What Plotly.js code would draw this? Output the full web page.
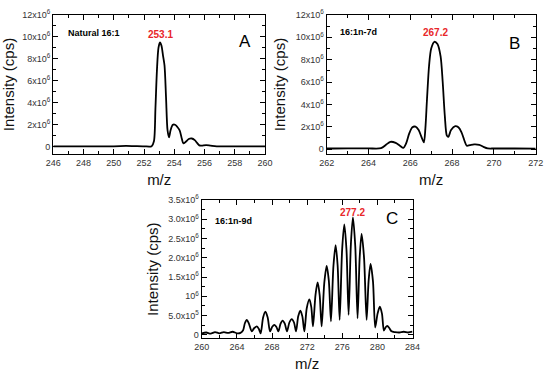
<!DOCTYPE html>
<html>
<head>
<meta charset="utf-8">
<script src="https://cdn.plot.ly/plotly-3.0.1.min.js"></script>
<style>html,body{margin:0;padding:0;background:#fff;}#chart{width:550px;height:374px;}</style>
</head>
<body>
<div id="chart"></div>
<script>
// Intensities in units of 10^6 cps
const mzA = [246, 248, 250, 250.8, 251.3, 252.0, 252.5, 252.65, 252.75, 252.85, 252.95, 253.05, 253.15, 253.25, 253.35, 253.45, 253.55, 253.65, 253.75, 253.9, 254.05, 254.2, 254.35, 254.5, 254.6, 254.75, 254.95, 255.15, 255.35, 255.5, 255.65, 255.8, 256.1, 256.4, 256.8, 258, 260];
const intA = [0.03, 0.03, 0.04, 0.07, 0.06, 0.04, 0.05, 0.5, 3.5, 7.0, 9.0, 9.5, 9.2, 8.3, 7.4, 4.5, 1.5, 0.85, 1.5, 2.0, 2.0, 1.8, 1.5, 0.7, 0.3, 0.45, 0.7, 0.75, 0.6, 0.35, 0.12, 0.1, 0.15, 0.1, 0.04, 0.03, 0.03];

const mzB = [262, 263, 264, 264.6, 264.85, 265.05, 265.3, 265.5, 265.67, 265.8, 265.95, 266.1, 266.25, 266.4, 266.55, 266.65, 266.72, 266.8, 266.9, 267.0, 267.15, 267.3, 267.45, 267.55, 267.65, 267.75, 267.82, 267.95, 268.15, 268.3, 268.45, 268.6, 268.7, 268.85, 269.05, 269.3, 269.5, 269.7, 270, 271, 272];
const intB = [0.05, 0.07, 0.06, 0.08, 0.4, 0.65, 0.55, 0.3, 0.1, 0.5, 1.4, 1.95, 2.0, 1.7, 1.0, 0.6, 1.8, 4.5, 7.5, 9.0, 9.6, 9.4, 8.3, 6.0, 3.0, 1.2, 1.1, 1.7, 2.05, 1.95, 1.5, 0.7, 0.3, 0.35, 0.42, 0.38, 0.2, 0.06, 0.05, 0.05, 0.03];

const mzC = [260, 260.5, 261, 261.5, 262, 262.5, 263, 263.5, 264, 264.4, 264.7, 264.9, 265.12, 265.35, 265.69, 265.95, 266.26, 266.5, 266.7, 266.98, 267.24, 267.5, 267.77, 268.02, 268.27, 268.5, 268.72, 268.97, 269.2, 269.45, 269.7, 269.97, 270.24, 270.5, 270.73, 270.98, 271.22, 271.45, 271.68, 271.95, 272.25, 272.47, 272.66, 272.95, 273.19, 273.42, 273.65, 273.95, 274.22, 274.47, 274.71, 274.99, 275.24, 275.47, 275.7, 275.98, 276.23, 276.48, 276.72, 276.98, 277.21, 277.48, 277.74, 277.98, 278.2, 278.48, 278.77, 279.0, 279.22, 279.5, 279.75, 280.02, 280.28, 280.52, 280.74, 280.93, 281.12, 281.37, 281.61, 282, 282.5, 283, 283.5, 284];
const intC = [0.04, 0.06, 0.03, 0.07, 0.04, 0.07, 0.05, 0.08, 0.04, 0.05, 0.12, 0.30, 0.39, 0.30, 0.09, 0.17, 0.22, 0.15, 0.04, 0.45, 0.6, 0.45, 0.09, 0.21, 0.26, 0.2, 0.09, 0.29, 0.37, 0.29, 0.09, 0.32, 0.41, 0.32, 0.09, 0.48, 0.63, 0.48, 0.09, 0.69, 0.92, 0.72, 0.22, 1.04, 1.36, 1.04, 0.22, 1.35, 1.79, 1.4, 0.35, 1.78, 2.33, 1.8, 0.39, 2.2, 2.87, 2.2, 0.52, 2.35, 3.05, 2.3, 0.43, 2.0, 2.62, 2.0, 0.39, 1.4, 1.84, 1.38, 0.19, 0.55, 0.73, 0.55, 0.11, 0.19, 0.23, 0.17, 0.09, 0.07, 0.06, 0.08, 0.06, 0.08];

const yTickValsAB = [0, 2, 4, 6, 8, 10, 12];
const yTickTextAB = ['0', '2x10<sup>6</sup>', '4x10<sup>6</sup>', '6x10<sup>6</sup>', '8x10<sup>6</sup>', '10x10<sup>6</sup>', '12x10<sup>6</sup>'];
const yTickValsC = [0, 0.5, 1.0, 1.5, 2.0, 2.5, 3.0, 3.5];
const yTickTextC = ['0', '5.0x10<sup>5</sup>', '10<sup>6</sup>', '1.5x10<sup>6</sup>', '2.0x10<sup>6</sup>', '2.5x10<sup>6</sup>', '3.0x10<sup>6</sup>', '3.5x10<sup>6</sup>'];

const sampleNames = ['Natural 16:1', '16:1n-7d', '16:1n-9d'];
const peakMz = [253.1, 267.2, 277.2];
const peakLabelY = [10.2, 10.4, 3.19];
const panelLetters = ['A', 'B', 'C'];

const line = {color: '#000', width: 1.8, shape: 'spline', smoothing: 0.8};
const traces = [
  {x: mzA, y: intA, xaxis: 'x', yaxis: 'y', mode: 'lines', line: line, hoverinfo: 'skip'},
  {x: mzB, y: intB, xaxis: 'x2', yaxis: 'y2', mode: 'lines', line: line, hoverinfo: 'skip'},
  {x: mzC, y: intC, xaxis: 'x3', yaxis: 'y3', mode: 'lines', line: line, hoverinfo: 'skip'}
];

const tickFont = {family: 'Arial, Liberation Sans, sans-serif', size: 9, color: '#333'};
const titleFont = {family: 'Arial, Liberation Sans, sans-serif', size: 15, color: '#111'};

function xax(domain, range, dtick, minorDtick, anchor) {
  return {domain: domain, range: range, anchor: anchor, dtick: dtick, tick0: range[0],
    showgrid: false, zeroline: false, showline: true, linecolor: '#000', linewidth: 1.2, mirror: 'ticks',
    ticks: 'inside', ticklen: 5, tickwidth: 1, tickcolor: '#000', tickfont: tickFont,
    minor: {ticks: 'inside', ticklen: 3, dtick: minorDtick, tickcolor: '#000', showgrid: false},
    title: {text: 'm/z', font: titleFont, standoff: 7}};
}
function yax(domain, range, vals, text, minorDtick, anchor) {
  return {domain: domain, range: range, anchor: anchor, tickmode: 'array', tickvals: vals, ticktext: text,
    showgrid: false, zeroline: false, showline: true, linecolor: '#000', linewidth: 1.2, mirror: 'ticks',
    ticks: 'inside', ticklen: 5, tickwidth: 1, tickcolor: '#000', tickfont: tickFont,
    minor: {ticks: 'inside', ticklen: 3, dtick: minorDtick, tick0: 0, tickcolor: '#000', showgrid: false},
    title: {text: 'Intensity (cps)', font: titleFont, standoff: 6}};
}

const annFont = {family: 'Arial, Liberation Sans, sans-serif', size: 9, color: '#000'};
const redFont = {family: 'Arial, Liberation Sans, sans-serif', size: 10, color: '#e8262a'};
const letterFont = {family: 'Arial, Liberation Sans, sans-serif', size: 17, color: '#000'};

const annotations = [
  {xref: 'paper', yref: 'paper', x: 0.12, y: 0.912, xanchor: 'left', yanchor: 'middle', text: '<b>' + sampleNames[0] + '</b>', showarrow: false, font: annFont},
  {xref: 'paper', yref: 'paper', x: 0.615, y: 0.914, xanchor: 'left', yanchor: 'middle', text: '<b>' + sampleNames[1] + '</b>', showarrow: false, font: annFont},
  {xref: 'paper', yref: 'paper', x: 0.387, y: 0.409, xanchor: 'left', yanchor: 'middle', text: '<b>' + sampleNames[2] + '</b>', showarrow: false, font: annFont},
  {xref: 'x', yref: 'y', x: peakMz[0], y: peakLabelY[0], text: '<b>' + peakMz[0].toFixed(1) + '</b>', showarrow: false, font: redFont},
  {xref: 'x2', yref: 'y2', x: peakMz[1], y: peakLabelY[1], text: '<b>' + peakMz[1].toFixed(1) + '</b>', showarrow: false, font: redFont},
  {xref: 'x3', yref: 'y3', x: peakMz[2], y: peakLabelY[2], text: '<b>' + peakMz[2].toFixed(1) + '</b>', showarrow: false, font: redFont},
  {xref: 'paper', yref: 'paper', x: 0.445, y: 0.92, text: panelLetters[0], showarrow: false, font: letterFont},
  {xref: 'paper', yref: 'paper', x: 0.949, y: 0.914, text: panelLetters[1], showarrow: false, font: letterFont},
  {xref: 'paper', yref: 'paper', x: 0.727, y: 0.417, text: panelLetters[2], showarrow: false, font: letterFont}
];

const layout = {
  width: 550, height: 374,
  margin: {l: 0, r: 0, t: 0, b: 0},
  paper_bgcolor: '#fff', plot_bgcolor: '#fff',
  showlegend: false,
  xaxis: xax([0.097, 0.482], [246, 260], 2, 1, 'y'),
  yaxis: yax([0.588, 0.960], [-0.67, 12], yTickValsAB, yTickTextAB, 1, 'x'),
  xaxis2: xax([0.594, 0.974], [262, 272], 2, 1, 'y2'),
  yaxis2: yax([0.588, 0.960], [-0.45, 12], yTickValsAB, yTickTextAB, 1, 'x2'),
  xaxis3: xax([0.367, 0.750], [260, 284], 4, 2, 'y3'),
  yaxis3: yax([0.0955, 0.465], [-0.09, 3.5], yTickValsC, yTickTextC, 0.25, 'x3'),
  annotations: annotations
};

Plotly.newPlot('chart', traces, layout, {staticPlot: true, displayModeBar: false});
</script>
</body>
</html>
